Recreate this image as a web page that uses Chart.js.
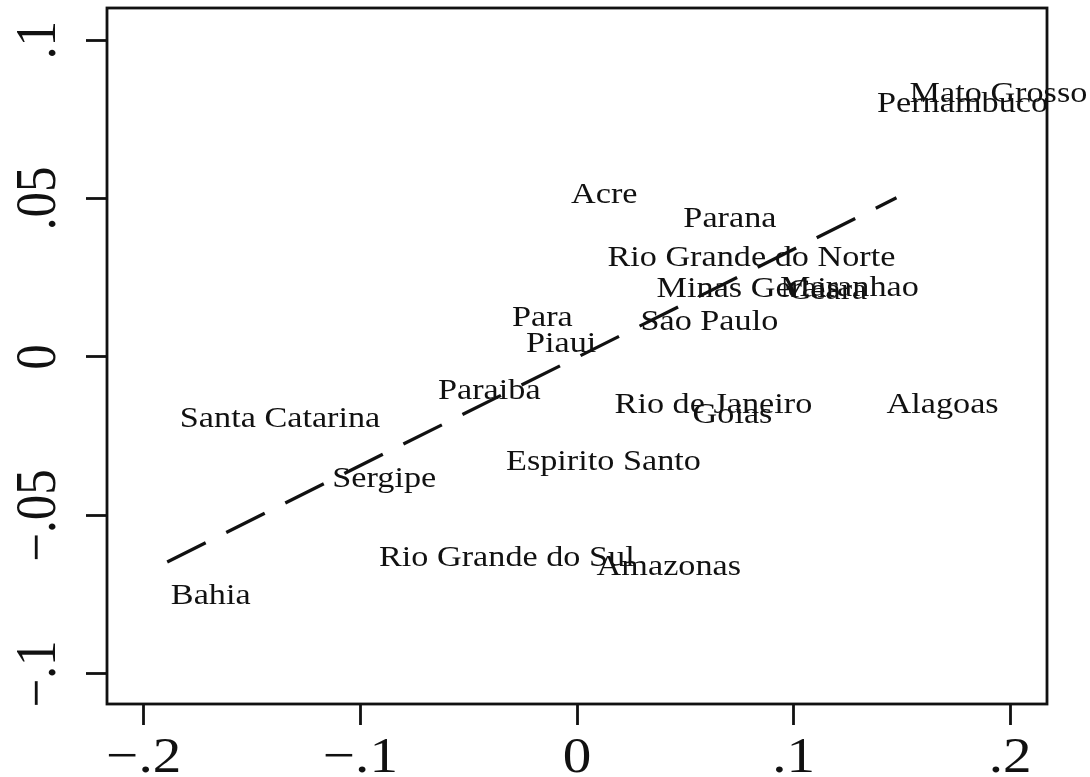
<!DOCTYPE html>
<html>
<head>
<meta charset="utf-8">
<script src="https://cdn.jsdelivr.net/npm/chart.js@4"></script>
<style>
  html, body { margin: 0; padding: 0; background: #fff; }
  #wrap { width: 1090px; height: 777px; }
</style>
</head>
<body>
<div id="wrap"><canvas id="c" width="1090" height="777"></canvas></div>
<script>
// Brazilian states, placed by their two scores
const states = [
  'Mato Grosso', 'Pernambuco', 'Acre', 'Parana', 'Rio Grande do Norte',
  'Minas Gerais', 'Maranhao', 'Ceara', 'Sao Paulo', 'Para', 'Piaui',
  'Paraiba', 'Rio de Janeiro', 'Goias', 'Alagoas', 'Santa Catarina',
  'Espirito Santo', 'Sergipe', 'Rio Grande do Sul', 'Amazonas', 'Bahia'
];
const stateX = [
  0.1946, 0.1780, 0.0126, 0.0706, 0.0805,
  0.0791, 0.1258, 0.1156, 0.0611, -0.0160, -0.0073,
  -0.0405, 0.0630, 0.0718, 0.1688, -0.1371,
  0.0122, -0.0890, -0.0324, 0.0424, -0.1691
];
const stateY = [
  0.0834, 0.0803, 0.0516, 0.0440, 0.0317,
  0.0219, 0.0222, 0.0213, 0.0115, 0.0128, 0.0046,
  -0.0103, -0.0147, -0.0178, -0.0147, -0.0191,
  -0.0326, -0.0380, -0.0629, -0.0658, -0.0749
];

// fitted line end points
const fitX = [-0.1892, 0.1475];
const fitY = [-0.0647, 0.0502];

// axis ticks
const xTicks = [-0.2, -0.1, 0, 0.1, 0.2];
const xTickLabels = ['\u2212.2', '\u2212.1', '0', '.1', '.2'];
const yTicks = [-0.1, -0.05, 0, 0.05, 0.1];
const yTickLabels = ['\u2212.1', '\u2212.05', '0', '.05', '.1'];

const INK = '#111';
const SERIF = '"Liberation Serif", "Times New Roman", serif';

// state names written at each point, frame, and the tick labels
const textPlugin = {
  id: 'textPlugin',
  afterDatasetsDraw(chart) {
    const ctx = chart.ctx;
    const meta = chart.getDatasetMeta(0);
    const size = 29, stretch = 1.18;
    ctx.save();
    ctx.fillStyle = INK;
    ctx.font = size + 'px ' + SERIF;
    ctx.textAlign = 'center';
    ctx.textBaseline = 'alphabetic';
    meta.data.forEach((pt, i) => {
      ctx.save();
      ctx.translate(pt.x, pt.y);
      ctx.scale(stretch, 1);
      ctx.fillText(states[i], 0, size * 0.331);
      ctx.restore();
    });
    ctx.restore();
  },
  afterDraw(chart) {
    const ctx = chart.ctx;
    const ca = chart.chartArea;
    ctx.save();
    ctx.strokeStyle = INK;
    ctx.lineWidth = 2.8;
    ctx.strokeRect(ca.left, ca.top, ca.right - ca.left, ca.bottom - ca.top);

    const tsize = 51, tstretch = 1.12;
    ctx.fillStyle = INK;
    ctx.font = tsize + 'px ' + SERIF;
    ctx.textAlign = 'center';
    ctx.textBaseline = 'alphabetic';

    const xs = chart.scales.x;
    xs.ticks.forEach((t, i) => {
      const px = xs.getPixelForValue(t.value);
      ctx.save();
      ctx.translate(px, 772);
      ctx.scale(tstretch, 1);
      ctx.fillText(xTickLabels[i], 0, 0);
      ctx.restore();
    });

    const ys = chart.scales.y;
    ys.ticks.forEach((t, i) => {
      const py = ys.getPixelForValue(t.value);
      ctx.save();
      ctx.translate(55, py);
      ctx.rotate(-Math.PI / 2);
      ctx.scale(1, tstretch);
      ctx.fillText(yTickLabels[i], 0, 0);
      ctx.restore();
    });
    ctx.restore();
  }
};

const tickGrid = {
  display: true,
  drawOnChartArea: false,
  drawTicks: true,
  tickLength: 21,
  tickWidth: 2.8,
  tickColor: INK
};

new Chart(document.getElementById('c'), {
  type: 'scatter',
  data: {
    datasets: [
      {
        label: 'states',
        data: states.map((s, i) => ({ x: stateX[i], y: stateY[i] })),
        pointRadius: 0,
        pointHoverRadius: 0,
        showLine: false
      },
      {
        label: 'fit',
        data: fitX.map((x, i) => ({ x: x, y: fitY[i] })),
        showLine: true,
        borderColor: INK,
        borderWidth: 3.3,
        borderDash: [43, 23],
        borderCapStyle: 'butt',
        pointRadius: 0,
        pointHoverRadius: 0,
        fill: false
      }
    ]
  },
  options: {
    responsive: false,
    animation: false,
    devicePixelRatio: 1,
    layout: { padding: { top: 8, right: 43, left: 0, bottom: 0 } },
    plugins: { legend: { display: false }, tooltip: { enabled: false } },
    scales: {
      x: {
        type: 'linear',
        min: -0.217,
        max: 0.217,
        afterBuildTicks: (s) => { s.ticks = xTicks.map(v => ({ value: v })); },
        afterFit: (s) => { s.height = 73; },
        ticks: { display: false },
        grid: tickGrid,
        border: { display: false }
      },
      y: {
        type: 'linear',
        min: -0.1095,
        max: 0.1101,
        afterBuildTicks: (s) => { s.ticks = yTicks.map(v => ({ value: v })); },
        afterFit: (s) => { s.width = 107; },
        ticks: { display: false },
        grid: tickGrid,
        border: { display: false }
      }
    }
  },
  plugins: [textPlugin]
});
</script>
</body>
</html>
